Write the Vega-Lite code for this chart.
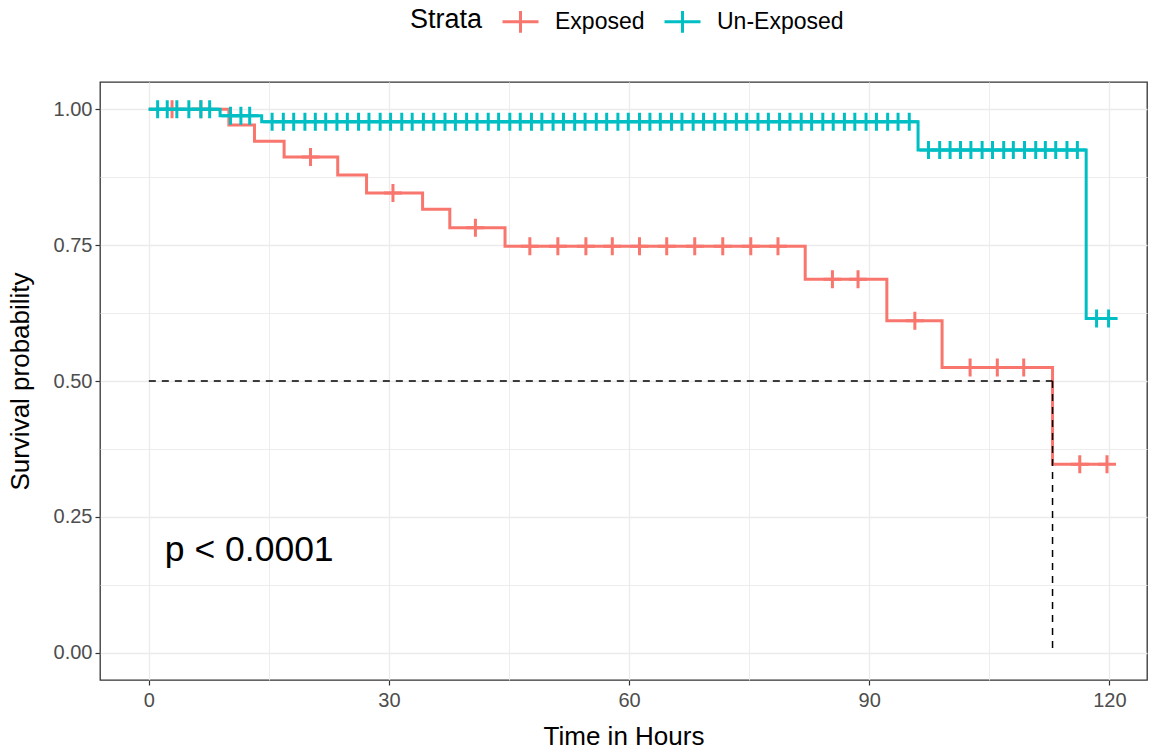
{
  "$schema": "https://vega.github.io/schema/vega-lite/v6.json",
  "autosize": "none",
  "width": 1047,
  "height": 598,
  "padding": {"left": 100, "top": 82, "right": 2, "bottom": 69},
  "background": "white",
  "config": {
    "font": "Liberation Sans",
    "view": {"stroke": "#333333", "strokeWidth": 1.3},
    "axis": {"domain": false}
  },
  "datasets": {
    "km": [
      {"strata": "Exposed", "time": 0, "surv": 1, "censor": 0},
      {"strata": "Exposed", "time": 2.9, "surv": 1, "censor": 1},
      {"strata": "Exposed", "time": 6.5, "surv": 1, "censor": 1},
      {"strata": "Exposed", "time": 10.0, "surv": 0.971, "censor": 0},
      {"strata": "Exposed", "time": 13.2, "surv": 0.941, "censor": 0},
      {"strata": "Exposed", "time": 16.9, "surv": 0.912, "censor": 0},
      {"strata": "Exposed", "time": 20.2, "surv": 0.912, "censor": 1},
      {"strata": "Exposed", "time": 23.6, "surv": 0.879, "censor": 0},
      {"strata": "Exposed", "time": 27.2, "surv": 0.846, "censor": 0},
      {"strata": "Exposed", "time": 30.5, "surv": 0.846, "censor": 1},
      {"strata": "Exposed", "time": 34.2, "surv": 0.816, "censor": 0},
      {"strata": "Exposed", "time": 37.6, "surv": 0.782, "censor": 0},
      {"strata": "Exposed", "time": 40.8, "surv": 0.782, "censor": 1},
      {"strata": "Exposed", "time": 44.5, "surv": 0.748, "censor": 0},
      {"strata": "Exposed", "time": 47.6, "surv": 0.748, "censor": 1},
      {"strata": "Exposed", "time": 51.1, "surv": 0.748, "censor": 1},
      {"strata": "Exposed", "time": 54.6, "surv": 0.748, "censor": 1},
      {"strata": "Exposed", "time": 57.9, "surv": 0.748, "censor": 1},
      {"strata": "Exposed", "time": 61.3, "surv": 0.748, "censor": 1},
      {"strata": "Exposed", "time": 64.7, "surv": 0.748, "censor": 1},
      {"strata": "Exposed", "time": 68.2, "surv": 0.748, "censor": 1},
      {"strata": "Exposed", "time": 71.7, "surv": 0.748, "censor": 1},
      {"strata": "Exposed", "time": 75.2, "surv": 0.748, "censor": 1},
      {"strata": "Exposed", "time": 78.6, "surv": 0.748, "censor": 1},
      {"strata": "Exposed", "time": 82.0, "surv": 0.687, "censor": 0},
      {"strata": "Exposed", "time": 85.4, "surv": 0.687, "censor": 1},
      {"strata": "Exposed", "time": 88.6, "surv": 0.687, "censor": 1},
      {"strata": "Exposed", "time": 92.2, "surv": 0.611, "censor": 0},
      {"strata": "Exposed", "time": 95.7, "surv": 0.611, "censor": 1},
      {"strata": "Exposed", "time": 99.1, "surv": 0.525, "censor": 0},
      {"strata": "Exposed", "time": 102.6, "surv": 0.525, "censor": 1},
      {"strata": "Exposed", "time": 106.0, "surv": 0.525, "censor": 1},
      {"strata": "Exposed", "time": 109.3, "surv": 0.525, "censor": 1},
      {"strata": "Exposed", "time": 112.9, "surv": 0.347, "censor": 0},
      {"strata": "Exposed", "time": 116.3, "surv": 0.347, "censor": 1},
      {"strata": "Exposed", "time": 119.7, "surv": 0.347, "censor": 1},
      {"strata": "Un-Exposed", "time": 0, "surv": 1, "censor": 0},
      {"strata": "Un-Exposed", "time": 1.1, "surv": 1, "censor": 1},
      {"strata": "Un-Exposed", "time": 2.3, "surv": 1, "censor": 1},
      {"strata": "Un-Exposed", "time": 3.5, "surv": 1, "censor": 1},
      {"strata": "Un-Exposed", "time": 5.0, "surv": 1, "censor": 1},
      {"strata": "Un-Exposed", "time": 6.5, "surv": 1, "censor": 1},
      {"strata": "Un-Exposed", "time": 7.6, "surv": 1, "censor": 1},
      {"strata": "Un-Exposed", "time": 8.9, "surv": 0.988, "censor": 0},
      {"strata": "Un-Exposed", "time": 10.2, "surv": 0.988, "censor": 1},
      {"strata": "Un-Exposed", "time": 11.5, "surv": 0.988, "censor": 1},
      {"strata": "Un-Exposed", "time": 12.6, "surv": 0.988, "censor": 1},
      {"strata": "Un-Exposed", "time": 14.1, "surv": 0.977, "censor": 0},
      {"strata": "Un-Exposed", "time": 15.4, "surv": 0.977, "censor": 1},
      {"strata": "Un-Exposed", "time": 16.8, "surv": 0.977, "censor": 1},
      {"strata": "Un-Exposed", "time": 18.1, "surv": 0.977, "censor": 1},
      {"strata": "Un-Exposed", "time": 19.5, "surv": 0.977, "censor": 1},
      {"strata": "Un-Exposed", "time": 20.8, "surv": 0.977, "censor": 1},
      {"strata": "Un-Exposed", "time": 22.1, "surv": 0.977, "censor": 1},
      {"strata": "Un-Exposed", "time": 23.5, "surv": 0.977, "censor": 1},
      {"strata": "Un-Exposed", "time": 24.8, "surv": 0.977, "censor": 1},
      {"strata": "Un-Exposed", "time": 26.2, "surv": 0.977, "censor": 1},
      {"strata": "Un-Exposed", "time": 27.5, "surv": 0.977, "censor": 1},
      {"strata": "Un-Exposed", "time": 28.9, "surv": 0.977, "censor": 1},
      {"strata": "Un-Exposed", "time": 30.2, "surv": 0.977, "censor": 1},
      {"strata": "Un-Exposed", "time": 31.6, "surv": 0.977, "censor": 1},
      {"strata": "Un-Exposed", "time": 32.9, "surv": 0.977, "censor": 1},
      {"strata": "Un-Exposed", "time": 34.3, "surv": 0.977, "censor": 1},
      {"strata": "Un-Exposed", "time": 35.6, "surv": 0.977, "censor": 1},
      {"strata": "Un-Exposed", "time": 37.0, "surv": 0.977, "censor": 1},
      {"strata": "Un-Exposed", "time": 38.3, "surv": 0.977, "censor": 1},
      {"strata": "Un-Exposed", "time": 39.7, "surv": 0.977, "censor": 1},
      {"strata": "Un-Exposed", "time": 41.0, "surv": 0.977, "censor": 1},
      {"strata": "Un-Exposed", "time": 42.4, "surv": 0.977, "censor": 1},
      {"strata": "Un-Exposed", "time": 43.7, "surv": 0.977, "censor": 1},
      {"strata": "Un-Exposed", "time": 45.1, "surv": 0.977, "censor": 1},
      {"strata": "Un-Exposed", "time": 46.4, "surv": 0.977, "censor": 1},
      {"strata": "Un-Exposed", "time": 47.8, "surv": 0.977, "censor": 1},
      {"strata": "Un-Exposed", "time": 49.1, "surv": 0.977, "censor": 1},
      {"strata": "Un-Exposed", "time": 50.5, "surv": 0.977, "censor": 1},
      {"strata": "Un-Exposed", "time": 51.8, "surv": 0.977, "censor": 1},
      {"strata": "Un-Exposed", "time": 53.2, "surv": 0.977, "censor": 1},
      {"strata": "Un-Exposed", "time": 54.5, "surv": 0.977, "censor": 1},
      {"strata": "Un-Exposed", "time": 55.9, "surv": 0.977, "censor": 1},
      {"strata": "Un-Exposed", "time": 57.2, "surv": 0.977, "censor": 1},
      {"strata": "Un-Exposed", "time": 58.6, "surv": 0.977, "censor": 1},
      {"strata": "Un-Exposed", "time": 59.9, "surv": 0.977, "censor": 1},
      {"strata": "Un-Exposed", "time": 61.3, "surv": 0.977, "censor": 1},
      {"strata": "Un-Exposed", "time": 62.6, "surv": 0.977, "censor": 1},
      {"strata": "Un-Exposed", "time": 63.9, "surv": 0.977, "censor": 1},
      {"strata": "Un-Exposed", "time": 65.3, "surv": 0.977, "censor": 1},
      {"strata": "Un-Exposed", "time": 66.6, "surv": 0.977, "censor": 1},
      {"strata": "Un-Exposed", "time": 68.0, "surv": 0.977, "censor": 1},
      {"strata": "Un-Exposed", "time": 69.3, "surv": 0.977, "censor": 1},
      {"strata": "Un-Exposed", "time": 70.7, "surv": 0.977, "censor": 1},
      {"strata": "Un-Exposed", "time": 72.0, "surv": 0.977, "censor": 1},
      {"strata": "Un-Exposed", "time": 73.4, "surv": 0.977, "censor": 1},
      {"strata": "Un-Exposed", "time": 74.7, "surv": 0.977, "censor": 1},
      {"strata": "Un-Exposed", "time": 76.1, "surv": 0.977, "censor": 1},
      {"strata": "Un-Exposed", "time": 77.4, "surv": 0.977, "censor": 1},
      {"strata": "Un-Exposed", "time": 78.8, "surv": 0.977, "censor": 1},
      {"strata": "Un-Exposed", "time": 80.1, "surv": 0.977, "censor": 1},
      {"strata": "Un-Exposed", "time": 81.5, "surv": 0.977, "censor": 1},
      {"strata": "Un-Exposed", "time": 82.8, "surv": 0.977, "censor": 1},
      {"strata": "Un-Exposed", "time": 84.2, "surv": 0.977, "censor": 1},
      {"strata": "Un-Exposed", "time": 85.5, "surv": 0.977, "censor": 1},
      {"strata": "Un-Exposed", "time": 86.9, "surv": 0.977, "censor": 1},
      {"strata": "Un-Exposed", "time": 88.2, "surv": 0.977, "censor": 1},
      {"strata": "Un-Exposed", "time": 89.6, "surv": 0.977, "censor": 1},
      {"strata": "Un-Exposed", "time": 90.9, "surv": 0.977, "censor": 1},
      {"strata": "Un-Exposed", "time": 92.3, "surv": 0.977, "censor": 1},
      {"strata": "Un-Exposed", "time": 93.6, "surv": 0.977, "censor": 1},
      {"strata": "Un-Exposed", "time": 95.0, "surv": 0.977, "censor": 1},
      {"strata": "Un-Exposed", "time": 96.1, "surv": 0.925, "censor": 0},
      {"strata": "Un-Exposed", "time": 97.4, "surv": 0.925, "censor": 1},
      {"strata": "Un-Exposed", "time": 98.8, "surv": 0.925, "censor": 1},
      {"strata": "Un-Exposed", "time": 100.1, "surv": 0.925, "censor": 1},
      {"strata": "Un-Exposed", "time": 101.4, "surv": 0.925, "censor": 1},
      {"strata": "Un-Exposed", "time": 102.7, "surv": 0.925, "censor": 1},
      {"strata": "Un-Exposed", "time": 104.1, "surv": 0.925, "censor": 1},
      {"strata": "Un-Exposed", "time": 105.4, "surv": 0.925, "censor": 1},
      {"strata": "Un-Exposed", "time": 106.8, "surv": 0.925, "censor": 1},
      {"strata": "Un-Exposed", "time": 108.0, "surv": 0.925, "censor": 1},
      {"strata": "Un-Exposed", "time": 109.4, "surv": 0.925, "censor": 1},
      {"strata": "Un-Exposed", "time": 110.8, "surv": 0.925, "censor": 1},
      {"strata": "Un-Exposed", "time": 112.0, "surv": 0.925, "censor": 1},
      {"strata": "Un-Exposed", "time": 113.3, "surv": 0.925, "censor": 1},
      {"strata": "Un-Exposed", "time": 114.7, "surv": 0.925, "censor": 1},
      {"strata": "Un-Exposed", "time": 116.0, "surv": 0.925, "censor": 1},
      {"strata": "Un-Exposed", "time": 117.1, "surv": 0.615, "censor": 0},
      {"strata": "Un-Exposed", "time": 118.4, "surv": 0.615, "censor": 1},
      {"strata": "Un-Exposed", "time": 119.9, "surv": 0.615, "censor": 1}
    ],
    "median": [
      {"t": 0, "t2": 112.9, "s": 0.5, "s2": 0.5},
      {"t": 112.9, "t2": 112.9, "s": 0.5, "s2": 0}
    ],
    "pval": [
      {"t": 2.0, "s": 0.19, "label": "p < 0.0001"}
    ]
  },
  "layer": [
    {
      "data": {"name": "km"},
      "mark": {"type": "line", "interpolate": "step-after", "strokeWidth": 3},
      "encoding": {
        "x": {
          "field": "time", "type": "quantitative",
          "scale": {"domain": [-6.1, 124.7], "nice": false, "zero": false},
          "axis": {
            "title": "Time in Hours",
            "values": [0, 15, 30, 45, 60, 75, 90, 105, 120],
            "labelExpr": "datum.value % 30 === 0 ? datum.label : ''",
            "tickOpacity": {"condition": {"test": "datum.value % 30 === 0", "value": 1}, "value": 0},
            "gridWidth": {"condition": {"test": "datum.value % 30 === 0", "value": 1.3}, "value": 0.9},
            "grid": true, "gridColor": "#EBEBEB",
            "tickColor": "#333333", "tickSize": 5, "tickWidth": 1.2,
            "labelFontSize": 20, "labelColor": "#4D4D4D", "labelPadding": 5,
            "titleFontSize": 26, "titleColor": "#000000", "titleFontWeight": "normal", "titlePadding": 13
          }
        },
        "y": {
          "field": "surv", "type": "quantitative",
          "scale": {"domain": [-0.05, 1.05], "nice": false, "zero": false},
          "axis": {
            "title": "Survival probability",
            "values": [0, 0.125, 0.25, 0.375, 0.5, 0.625, 0.75, 0.875, 1],
            "labelExpr": "(datum.value * 4) % 1 === 0 ? format(datum.value, '.2f') : ''",
            "tickOpacity": {"condition": {"test": "(datum.value * 4) % 1 === 0", "value": 1}, "value": 0},
            "gridWidth": {"condition": {"test": "(datum.value * 4) % 1 === 0", "value": 1.3}, "value": 0.9},
            "grid": true, "gridColor": "#EBEBEB",
            "tickColor": "#333333", "tickSize": 5, "tickWidth": 1.2,
            "labelFontSize": 20, "labelColor": "#4D4D4D", "labelPadding": 3,
            "titleFontSize": 26, "titleColor": "#000000", "titleFontWeight": "normal", "titlePadding": 20
          }
        },
        "color": {
          "field": "strata", "type": "nominal",
          "scale": {"domain": ["Exposed", "Un-Exposed"], "range": ["#F8766D", "#00BFC4"]},
          "legend": {
            "title": "Strata",
            "orient": "none",
            "legendX": 310,
            "legendY": -80,
            "direction": "horizontal",
            "titleOrient": "left",
            "titleFontSize": 27,
            "titleFontWeight": "normal",
            "titleColor": "#000000",
            "titlePadding": 18,
            "labelFontSize": 23,
            "labelColor": "#000000",
            "labelOffset": 15,
            "columnPadding": 13,
            "symbolType": "M-1,0H1M0,-0.6V0.6",
            "symbolSize": 1296,
            "symbolStrokeWidth": 3
          }
        }
      }
    },
    {
      "data": {"name": "km"},
      "transform": [{"filter": "datum.censor === 1"}],
      "mark": {"type": "point", "shape": "M-1,0H1M0,-1V1", "size": 324, "filled": false, "strokeWidth": 3, "opacity": 1},
      "encoding": {
        "x": {"field": "time", "type": "quantitative"},
        "y": {"field": "surv", "type": "quantitative"},
        "color": {"field": "strata", "type": "nominal"}
      }
    },
    {
      "data": {"name": "median"},
      "mark": {"type": "rule", "color": "#000000", "strokeWidth": 1.5, "strokeDash": [7, 6]},
      "encoding": {
        "x": {"field": "t", "type": "quantitative"},
        "x2": {"field": "t2"},
        "y": {"field": "s", "type": "quantitative"},
        "y2": {"field": "s2"}
      }
    },
    {
      "data": {"name": "pval"},
      "mark": {"type": "text", "align": "left", "baseline": "middle", "fontSize": 35.5, "color": "#000000"},
      "encoding": {
        "x": {"field": "t", "type": "quantitative"},
        "y": {"field": "s", "type": "quantitative"},
        "text": {"field": "label"}
      }
    }
  ]
}
